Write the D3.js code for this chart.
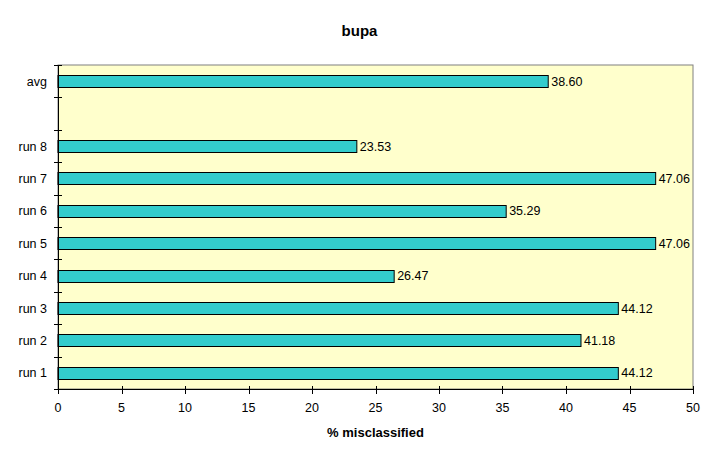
<!DOCTYPE html>
<html><head><meta charset="utf-8">
<script src="https://cdn.jsdelivr.net/npm/d3@7"></script>
<style>body{margin:0;background:#fff}svg{display:block}text{font-family:"Liberation Sans",Arial,sans-serif}</style>
</head><body>
<script>
const categories = ["run 1","run 2","run 3","run 4","run 5","run 6","run 7","run 8","","avg"];
const values = [44.12,41.18,44.12,26.47,47.06,35.29,47.06,23.53,null,38.60];
const xTicks = [0,5,10,15,20,25,30,35,40,45,50];
const title = "bupa";
const xTitle = "% misclassified";

const W=719,H=461;
const m={l:58,r:26,t:65,b:72};
const svg=d3.select("body").append("svg").attr("width",W).attr("height",H);
const x=d3.scaleLinear().domain([0,50]).range([m.l,W-m.r]);
const keys=categories.map((c,i)=>i);
const y=d3.scaleBand().domain(keys.slice().reverse()).range([m.t,H-m.b]).paddingInner(0.63).paddingOuter(0.315);
const yb=d3.scaleBand().domain(keys.slice().reverse()).range([m.t,H-m.b]);

svg.append("rect").attr("x",m.l).attr("y",m.t).attr("width",W-m.r-m.l).attr("height",H-m.b-m.t)
  .attr("fill","#FFFFCC").attr("stroke","#808080").attr("stroke-width",1);

svg.append("text").attr("x",W/2).attr("y",36).attr("text-anchor","middle").attr("font-size",15).attr("font-weight","bold").text(title);

const bars=keys.filter(i=>values[i]!=null);
svg.selectAll("rect.bar").data(bars).join("rect").attr("class","bar")
  .attr("x",x(0)).attr("y",i=>Math.round(y(i))+0.5).attr("width",i=>x(values[i])-x(0)).attr("height",Math.round(y.bandwidth()))
  .attr("fill","#33CCCC").attr("stroke","#000").attr("stroke-width",1);
svg.selectAll("text.val").data(bars).join("text").attr("class","val")
  .attr("x",i=>x(values[i])+3).attr("y",i=>y(i)+y.bandwidth()/2+4.5).attr("font-size",12.5)
  .text(i=>values[i].toFixed(2));

// x axis
const gx=svg.append("g");
gx.append("line").attr("x1",m.l).attr("x2",W-m.r).attr("y1",H-m.b+0.5).attr("y2",H-m.b+0.5).attr("stroke","#000");
gx.selectAll("line.t").data(xTicks).join("line").attr("class","t")
  .attr("x1",d=>Math.round(x(d))+0.5).attr("x2",d=>Math.round(x(d))+0.5).attr("y1",H-m.b-3).attr("y2",H-m.b+5).attr("stroke","#000");
gx.selectAll("text").data(xTicks).join("text").attr("x",d=>x(d)).attr("y",H-m.b+23).attr("text-anchor","middle").attr("font-size",12.5).text(d=>d);
svg.append("text").attr("x",(m.l+W-m.r)/2).attr("y",437).attr("text-anchor","middle").attr("font-size",13).attr("font-weight","bold").text(xTitle);

// y axis
const gy=svg.append("g");
gy.append("line").attr("x1",m.l+0.5).attr("x2",m.l+0.5).attr("y1",m.t).attr("y2",H-m.b).attr("stroke","#000");
const bounds=keys.map(i=>yb(i)).concat([H-m.b]);
gy.selectAll("line.t").data(bounds).join("line").attr("class","t")
  .attr("x1",m.l-4).attr("x2",m.l+4).attr("y1",d=>Math.round(d)+0.5).attr("y2",d=>Math.round(d)+0.5).attr("stroke","#000");
gy.selectAll("text").data(keys).join("text").attr("x",47).attr("y",i=>yb(i)+yb.bandwidth()/2+4.5).attr("text-anchor","end").attr("font-size",12.5).text(i=>categories[i]);
</script>
</body></html>
